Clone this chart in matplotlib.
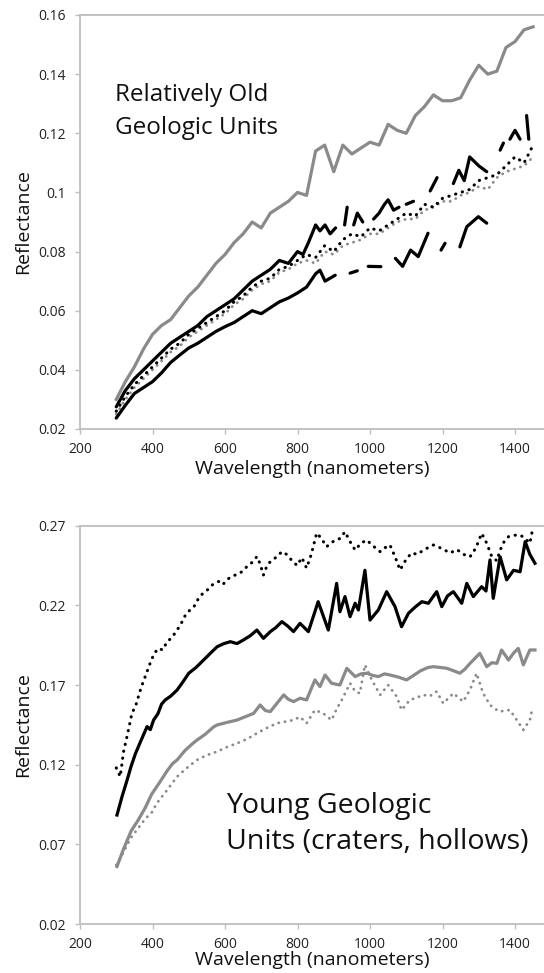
#!/usr/bin/env python3
"""Reflectance spectra of old vs young geologic units."""
import matplotlib
matplotlib.use('Agg')
import matplotlib.pyplot as plt
import numpy as np

nan = np.nan
plt.rcParams['font.family'] = ['Open Sans', 'DejaVu Sans']

# ============================================================
# Data: top panel (relatively old units)
# ============================================================
old_wl = [300, 325, 350, 375, 400, 425, 450, 475, 500, 525, 550, 575, 600, 625,
          650, 675, 700, 725, 750, 775, 800, 825, 850, 875, 900, 925, 950, 975,
          1000, 1025, 1050, 1075, 1100, 1125, 1150, 1175, 1200, 1225, 1250, 1275,
          1300, 1325, 1350, 1375, 1400, 1425, 1450]

old_gray_solid = [0.030, 0.036, 0.041, 0.047, 0.052, 0.055, 0.057, 0.061, 0.065,
                  0.068, 0.072, 0.076, 0.079, 0.083, 0.086, 0.090, 0.088, 0.093,
                  0.095, 0.097, 0.100, 0.099, 0.114, 0.116, 0.107, 0.116, 0.113,
                  0.115, 0.117, 0.116, 0.123, 0.121, 0.120, 0.126, 0.129, 0.133,
                  0.131, 0.131, 0.132, 0.138, 0.143, 0.140, 0.141, 0.149, 0.151,
                  0.155, 0.156]

old_black_dots = [0.026, 0.031, 0.035, 0.038, 0.041, 0.044, 0.047, 0.049, 0.052,
                  0.054, 0.056, 0.058, 0.060, 0.063, 0.065, 0.068, 0.070, 0.071,
                  0.074, 0.075, 0.077, 0.079, 0.078, 0.082, 0.080, 0.084, 0.086,
                  0.085, 0.088, 0.087, 0.089, 0.091, 0.093, 0.092, 0.096, 0.095,
                  0.098, 0.099, 0.100, 0.101, 0.104, 0.105, 0.106, 0.109, 0.112,
                  0.110, 0.116]

old_gray_dots = [0.025, 0.030, 0.034, 0.037, 0.040, 0.043, 0.046, 0.048, 0.051,
                 0.053, 0.055, 0.057, 0.059, 0.062, 0.064, 0.067, 0.069, 0.070,
                 0.073, 0.074, 0.076, 0.077, 0.076, 0.080, 0.079, 0.082, 0.083,
                 0.084, 0.086, 0.086, 0.088, 0.090, 0.091, 0.091, 0.094, 0.095,
                 0.097, 0.097, 0.099, 0.100, 0.102, 0.101, 0.105, 0.107, 0.108,
                 0.109, 0.112]

# black upper line, broken where data is missing
old_black_hi_wl = [300, 325, 350, 375, 400, 425, 450, 475, 500, 525, 550, 575, 600,
                   625, 650, 675, 700, 725, 750, 775, 800, 815, 830, 850, 862, 876,
                   890, 905, 918, 930, 937, 946, 955, 965, 980, 995, 1010, 1025,
                   1040, 1050, 1065, 1080, 1090, 1100, 1120, 1145, 1166, 1185, 1210,
                   1230, 1245, 1260, 1275, 1300, 1322, 1340, 1359, 1368, 1377, 1386,
                   1400, 1414, 1424, 1432, 1438]
old_black_hi = [0.0275, 0.033, 0.037, 0.040, 0.043, 0.046, 0.049, 0.051, 0.053,
                0.055, 0.058, 0.060, 0.062, 0.064, 0.067, 0.070, 0.072, 0.074,
                0.077, 0.076, 0.080, 0.079, 0.083, 0.089, 0.087, 0.089, 0.086,
                0.088, nan, 0.089, 0.095, nan, 0.089, 0.093, 0.090, nan, 0.091,
                0.093, 0.096, 0.0975, 0.094, 0.095, nan, 0.096, 0.097, nan, 0.1005,
                0.105, nan, 0.103, 0.1075, 0.104, 0.112, 0.109, 0.107, nan, 0.1143,
                0.1167, nan, 0.118, 0.121, 0.118, nan, 0.126, 0.118]

# black lower line
old_black_lo_wl = [300, 325, 350, 375, 400, 425, 450, 475, 500, 525, 550, 575, 600,
                   625, 650, 675, 700, 725, 750, 775, 800, 825, 850, 862, 876, 904,
                   925, 945, 965, 980, 995, 1030, 1050, 1070, 1090, 1112, 1133, 1160,
                   1180, 1196, 1207, 1225, 1248, 1267, 1299, 1322]
old_black_lo = [0.0237, 0.028, 0.032, 0.034, 0.036, 0.039, 0.0425, 0.045, 0.0474,
                0.049, 0.051, 0.053, 0.0546, 0.056, 0.058, 0.060, 0.059, 0.061,
                0.063, 0.0643, 0.066, 0.068, 0.0725, 0.0737, 0.070, 0.072, nan,
                0.0727, 0.0735, nan, 0.075, 0.0749, nan, 0.0777, 0.075, 0.0805,
                0.0783, 0.0862, nan, 0.0805, 0.0828, nan, 0.0816, 0.0884, 0.0918,
                0.0896]

old_yticks = [0.02, 0.04, 0.06, 0.08, 0.10, 0.12, 0.14, 0.16]
old_ylabels = ['0.02', '0.04', '0.06', '0.08', '0.1', '0.12', '0.14', '0.16']

# ============================================================
# Data: bottom panel (young units)
# ============================================================
yng_black_dots_wl = [300, 311, 320, 330, 343, 355, 368, 381, 394, 405, 417, 428, 440,
                     454, 468, 480, 491, 503, 514, 526, 537, 549, 560, 572, 583, 594,
                     605, 617, 628, 640, 651, 663, 675, 688, 697, 706, 716, 725, 740,
                     757, 770, 785, 799, 812, 825, 838, 853, 866, 880, 892, 904, 918,
                     931, 945, 959, 975, 991, 1010, 1028, 1040, 1055, 1070, 1083,
                     1100, 1115, 1130, 1150, 1175, 1195, 1221, 1240, 1258, 1276, 1292,
                     1308, 1322, 1336, 1350, 1359, 1370, 1382, 1398, 1414, 1428, 1441,
                     1450]
yng_black_dots = [0.118, 0.1125, 0.128, 0.138, 0.152, 0.158, 0.168, 0.176, 0.184,
                  0.190, 0.193, 0.192, 0.197, 0.200, 0.2045, 0.209, 0.214, 0.217,
                  0.219, 0.224, 0.227, 0.229, 0.232, 0.234, 0.235, 0.233, 0.236,
                  0.238, 0.239, 0.240, 0.242, 0.245, 0.247, 0.2506, 0.246, 0.239,
                  0.245, 0.2474, 0.250, 0.2537, 0.252, 0.248, 0.245, 0.250, 0.2434,
                  0.252, 0.2654, 0.262, 0.2568, 0.259, 0.261, 0.262, 0.2662, 0.260,
                  0.2547, 0.259, 0.261, 0.257, 0.2537, 0.256, 0.2579, 0.250, 0.2422,
                  0.249, 0.2529, 0.252, 0.255, 0.2579, 0.256, 0.2529, 0.255, 0.252,
                  0.2505, 0.256, 0.2652, 0.259, 0.2505, 0.248, 0.2547, 0.260, 0.2631,
                  0.264, 0.2642, 0.262, 0.259, 0.2694]

yng_black_wl = [302, 316, 330, 341, 353, 368, 385, 394, 403, 415, 425, 435, 450, 468,
                484, 500, 520, 541, 560, 578, 597, 615, 633, 651, 670, 688, 706, 725,
                740, 757, 773, 789, 807, 830, 857, 885, 908, 917, 931, 945, 959, 968,
                986, 1000, 1023, 1046, 1069, 1087, 1106, 1125, 1143, 1161, 1184, 1198,
                1214, 1230, 1253, 1267, 1285, 1308, 1320, 1331, 1340, 1359, 1377,
                1396, 1414, 1428, 1441, 1455]
yng_black = [0.0884, 0.100, 0.1104, 0.119, 0.127, 0.135, 0.1439, 0.142, 0.148, 0.152,
             0.158, 0.1606, 0.163, 0.1669, 0.172, 0.1774, 0.181, 0.1857, 0.190, 0.194,
             0.196, 0.1972, 0.196, 0.1983, 0.201, 0.2045, 0.1993, 0.2035, 0.206,
             0.2098, 0.207, 0.2035, 0.2087, 0.2035, 0.2223, 0.2045, 0.2338, 0.216,
             0.2255, 0.2129, 0.2213, 0.2171, 0.242, 0.2108, 0.2171, 0.2286, 0.2192,
             0.2066, 0.215, 0.219, 0.2223, 0.2213, 0.2286, 0.2192, 0.226, 0.2286,
             0.2213, 0.2338, 0.2255, 0.2317, 0.229, 0.2485, 0.2244, 0.2505, 0.236,
             0.242, 0.2411, 0.260, 0.252, 0.2464]

yng_gray_wl = [302, 320, 341, 360, 380, 398, 420, 440, 455, 468, 490, 512, 523, 545,
               569, 578, 605, 633, 655, 679, 697, 711, 725, 745, 762, 775, 789, 807,
               825, 848, 862, 876, 894, 917, 936, 959, 975, 991, 1008, 1023, 1040,
               1055, 1078, 1101, 1120, 1140, 1160, 1175, 1195, 1212, 1230, 1248, 1262,
               1276, 1303, 1322, 1336, 1350, 1363, 1382, 1396, 1409, 1423, 1441, 1455]
yng_gray = [0.0561, 0.067, 0.0784, 0.085, 0.093, 0.1016, 0.109, 0.116, 0.1206, 0.123,
            0.129, 0.1335, 0.1355, 0.139, 0.1438, 0.1449, 0.1465, 0.148, 0.150,
            0.1522, 0.1575, 0.154, 0.1533, 0.159, 0.1638, 0.161, 0.1596, 0.1617,
            0.1606, 0.1732, 0.169, 0.1763, 0.1711, 0.170, 0.1805, 0.1753, 0.177,
            0.1774, 0.176, 0.1753, 0.177, 0.1763, 0.175, 0.1732, 0.176, 0.179, 0.181,
            0.1815, 0.181, 0.1805, 0.179, 0.1774, 0.180, 0.1836, 0.1899, 0.1815,
            0.184, 0.1836, 0.192, 0.1857, 0.190, 0.193, 0.1826, 0.192, 0.192]

yng_gray_dots_wl = [300, 320, 340, 360, 380, 398, 412, 440, 468, 495, 523, 550, 578,
                    605, 633, 660, 688, 715, 743, 766, 789, 807, 825, 848, 871, 894,
                    908, 922, 945, 959, 972, 986, 1005, 1028, 1050, 1074, 1087, 1110,
                    1128, 1147, 1165, 1184, 1202, 1230, 1257, 1276, 1294, 1312, 1331,
                    1345, 1359, 1372, 1386, 1405, 1423, 1441, 1446]
yng_gray_dots = [0.057, 0.065, 0.074, 0.080, 0.086, 0.090, 0.0958, 0.104, 0.1125,
                 0.118, 0.123, 0.126, 0.1282, 0.131, 0.1334, 0.136, 0.1397, 0.143,
                 0.146, 0.147, 0.148, 0.150, 0.146, 0.1543, 0.1522, 0.148, 0.155,
                 0.1606, 0.1711, 0.166, 0.1648, 0.1826, 0.1732, 0.1638, 0.170, 0.1627,
                 0.1543, 0.1606, 0.162, 0.1638, 0.163, 0.1659, 0.1585, 0.1648, 0.1596,
                 0.167, 0.1774, 0.1648, 0.1575, 0.155, 0.1533, 0.154, 0.1543, 0.148,
                 0.1418, 0.148, 0.1533]

yng_yticks = [0.02, 0.07, 0.12, 0.17, 0.22, 0.27]
yng_ylabels = ['0.02', '0.07', '0.12', '0.17', '0.22', '0.27']

xticks = [200, 400, 600, 800, 1000, 1200, 1400]

GRAY = '#8a8a8a'
AXIS = '#bdbdbd'
DOTS = (0, (0.1, 2.2))


def style_axes(ax, yticks, ylabels, ylim):
    ax.set_xlim(200, 1480)
    ax.set_ylim(*ylim)
    ax.set_xticks(xticks)
    ax.set_xticklabels([str(t) for t in xticks])
    ax.set_yticks(yticks)
    ax.set_yticklabels(ylabels)
    for side in ['left', 'bottom', 'top']:
        ax.spines[side].set_color(AXIS)
        ax.spines[side].set_linewidth(1.3)
    ax.spines['right'].set_visible(False)
    ax.tick_params(axis='both', colors=AXIS, labelcolor='#222222', labelsize=10,
                   length=3.5, width=1)
    ax.tick_params(axis='y', pad=7)
    ax.tick_params(axis='x', pad=6)
    ax.set_ylabel('Reflectance', fontsize=14, labelpad=4, color='#111111')


fig = plt.figure(figsize=(5.44, 9.73), dpi=100)

# ============================================================
# Top panel
# ============================================================
ax = fig.add_axes([80 / 544, 1 - 429 / 973, 464 / 544, 414 / 973])
ax.plot(old_wl, old_gray_solid, color=GRAY, lw=2.3)
ax.plot(old_wl, old_gray_dots, color=GRAY, lw=2.0, ls=DOTS, dash_capstyle='round')
ax.plot(old_wl, old_black_dots, color='black', lw=2.2, ls=DOTS, dash_capstyle='round')
ax.plot(old_black_hi_wl, old_black_hi, color='black', lw=2.3, solid_capstyle='round')
ax.plot(old_black_lo_wl, old_black_lo, color='black', lw=2.3, solid_capstyle='round')
style_axes(ax, old_yticks, old_ylabels, (0.02, 0.16))
ax.set_xlabel('Wavelength (nanometers)', fontsize=14, labelpad=2, color='#111111')
ax.text(297, 0.1275, 'Relatively Old\nGeologic Units', fontsize=17.5, ha='left',
        va='center', linespacing=1.5, color='#111111')

# ============================================================
# Bottom panel
# ============================================================
ax = fig.add_axes([80 / 544, 1 - 924 / 973, 464 / 544, (924 - 525.7) / 973])
ax.plot(yng_gray_wl, yng_gray, color=GRAY, lw=2.3)
ax.plot(yng_gray_dots_wl, yng_gray_dots, color=GRAY, lw=2.0, ls=DOTS,
        dash_capstyle='round')
ax.plot(yng_black_dots_wl, yng_black_dots, color='black', lw=2.2, ls=DOTS,
        dash_capstyle='round')
ax.plot(yng_black_wl, yng_black, color='black', lw=2.3)
style_axes(ax, yng_yticks, yng_ylabels, (0.02, 0.27))
ax.set_xlabel('Wavelength (nanometers)', fontsize=14, labelpad=-1, color='#111111')
ax.text(603, 0.0828, 'Young Geologic\nUnits (craters, hollows)', fontsize=20.5,
        ha='left', va='center', linespacing=1.35, color='#111111')

fig.savefig('out.png', dpi=100, facecolor='white')
